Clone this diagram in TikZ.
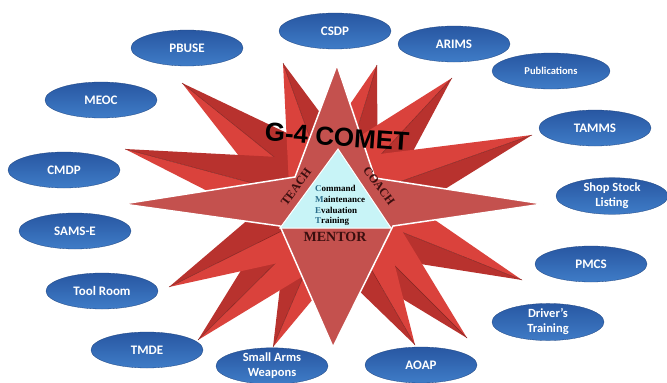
\documentclass[tikz,border=0pt]{standalone}
\usepackage{fontspec}
\setmainfont{Liberation Serif}
\newfontfamily\calib{Carlito}
\newfontfamily\arialb{Liberation Sans}
\usetikzlibrary{calc,shapes.geometric}
\definecolor{spikeA}{HTML}{DA423C}
\definecolor{spikeB}{HTML}{B8322E}
\definecolor{starL}{HTML}{C4514E}
\definecolor{triC}{HTML}{C8F4F7}
\definecolor{blueT}{HTML}{2857A2}
\definecolor{blueB}{HTML}{3F7CC7}
\definecolor{capC}{HTML}{2B6E8C}
\definecolor{wordC}{HTML}{3A0E0E}
\tikzset{
  oval/.style={ellipse, minimum width=112pt, minimum height=36pt, inner sep=0pt,
    top color=blueT, bottom color=blueB, draw=blueT!80!black, line width=0.3pt,
    text=white, font=\calib\bfseries\fontsize{13}{15}\selectfont, align=center},
  sidetext/.style={font=\bfseries\fontsize{12}{12}\selectfont, text=wordC, inner sep=0pt},
  cmetline/.style={font=\bfseries\fontsize{9}{9}\selectfont, anchor=west, inner sep=0pt}
}
\begin{document}
\begin{tikzpicture}[x=1pt,y=-1pt]
\useasboundingbox (0,0) rectangle (667,383);
\fill[white] (0,0) rectangle (667,383);
\coordinate (c) at (334,205);
% dark spikes behind
\foreach \tx/\ty in {182/83,125/149,283/63,377/65,452/78,532/135,522/280,467/338,415/345,273/347,198/340,169/287} {
  \coordinate (t) at (\tx,\ty);
  \fill[spikeA] (c) -- ($(c)!46pt!90:(t)$) -- (t) -- cycle;
  \fill[spikeB] (c) -- ($(c)!46pt!-90:(t)$) -- (t) -- cycle;
  \draw[spikeB!70!black, line width=0.4pt] (c) -- (t);
}
% light four-point star
\coordinate (sW) at (123,204);
\coordinate (sNW) at (295,177);
\coordinate (sN) at (337,65);
\coordinate (sNE) at (375,178);
\coordinate (sE) at (543,204);
\coordinate (sSE) at (393,226);
\coordinate (sS) at (333,347);
\coordinate (sSW) at (280,226);
\filldraw[fill=starL, draw=white, line width=1.5pt, line join=miter]
  (sW) -- (sNW) -- (sN) -- (sNE) -- (sE) -- (sSE) -- (sS) -- (sSW) -- cycle;
% triangle
\coordinate (tA) at (338,149);
\coordinate (tR) at (391,228);
\coordinate (tL) at (280,228);
\filldraw[fill=triC, draw=white, line width=1pt] (tA) -- (tR) -- (tL) -- cycle;
% texts in and around triangle
\node[cmetline] (l1) at (315,188) {\textcolor{capC}{C}ommand};
\node[cmetline] (l2) at (315,199) {\textcolor{capC}{M}aintenance};
\node[cmetline] (l3) at (315,210) {\textcolor{capC}{E}valuation};
\node[cmetline] (l4) at (315,221) {\textcolor{capC}{T}raining};
\node[sidetext, rotate=53.7] (teach) at (296,187) {TEACH};
\node[sidetext, rotate=-53.7] (coach) at (379,186) {COACH};
\node[sidetext, font=\bfseries\fontsize{14}{14}\selectfont] (mentor) at (335,237) {MENTOR};
\node[font=\arialb\bfseries\fontsize{26}{26}\selectfont, rotate=-4, inner sep=0pt] (title) at (337,137) {G-4 COMET};
% ellipses
\node[oval] (csdp) at (335,31) {CSDP};
\node[oval] (arims) at (454,44) {ARIMS};
\node[oval, minimum width=118pt, font=\calib\bfseries\fontsize{10.5}{12}\selectfont] (pubs) at (551,71) {Publications};
\node[oval] (pbuse) at (187,48) {PBUSE};
\node[oval] (meoc) at (101,100) {MEOC};
\node[oval] (tamms) at (595,128) {TAMMS};
\node[oval] (cmdp) at (64,170) {CMDP};
\node[oval, font=\calib\bfseries\fontsize{12.5}{15}\selectfont] (ssl) at (612,196) {Shop Stock\\Listing};
\node[oval] (samse) at (75,231) {SAMS-E};
\node[oval] (pmcs) at (591,264) {PMCS};
\node[oval] (tool) at (102,291) {Tool Room};
\node[oval, font=\calib\bfseries\fontsize{12.5}{15}\selectfont] (drv) at (548,322) {Driver’s\\Training};
\node[oval] (tmde) at (147,350) {TMDE};
\node[oval, font=\calib\bfseries\fontsize{12.5}{15}\selectfont] (saw) at (272,366) {Small Arms\\Weapons};
\node[oval] (aoap) at (421,365) {AOAP};
\end{tikzpicture}
\end{document}
